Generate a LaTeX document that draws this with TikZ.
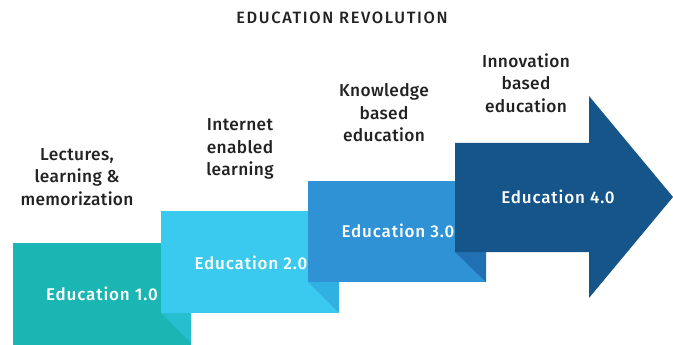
\documentclass[tikz,border=0pt]{standalone}
\usepackage{fontspec}
\setmainfont{Fira Sans}[BoldFont=* Medium]
\definecolor{cA}{HTML}{1AB6B4}
\definecolor{cAf}{HTML}{25BFCF}
\definecolor{cB}{HTML}{3AC9EF}
\definecolor{cBf}{HTML}{30B1E1}
\definecolor{cC}{HTML}{2E92D5}
\definecolor{cCf}{HTML}{2171B2}
\definecolor{cD}{HTML}{16558A}
\definecolor{txt}{HTML}{222222}
\tikzset{
  lbl/.style={align=center, text=txt, inner sep=0pt, font=\fontsize{17.3}{22.5}\selectfont\bfseries\addfontfeature{LetterSpace=2}},
  steptxt/.style={text=white, font=\fontsize{17}{20}\selectfont\bfseries\addfontfeature{LetterSpace=5}},
  ttl/.style={text=txt, font=\fontsize{16.4}{20}\selectfont\bfseries\addfontfeature{LetterSpace=10}},
}
\begin{document}
\begin{tikzpicture}[x=1pt,y=-1pt]
\useasboundingbox (0,0) rectangle (673,345);
% box 1
\fill[cA] (13,243) rectangle (191,345);
\fill[cAf] (161,313) -- (191,313) -- (191,343) -- cycle;
% box 2
\fill[cB] (161,211) rectangle (339,313);
\fill[cBf] (308,282) -- (339,282) -- (339,313) -- cycle;
% box 3
\fill[cC] (308,181) rectangle (486,282);
\fill[cCf] (455,252) -- (486,252) -- (486,282) -- cycle;
% arrow 4
\fill[cD] (455,143) -- (589,143) -- (589,96) -- (673,197) -- (589,298) -- (589,252) -- (455,252) -- cycle;
% texts
\node[steptxt] (e1) at (102,294) {Education 1.0};
\node[steptxt] (e2) at (251,263) {Education 2.0};
\node[steptxt] (e3) at (398,231) {Education 3.0};
\node[steptxt] (e4) at (558,197) {Education 4.0};
\node[lbl] (l1) at (77,177) {Lectures,\\learning \&\\memorization};
\node[lbl] (l2) at (240,149) {Internet\\enabled\\learning};
\node[lbl] (l3) at (384,113) {Knowledge\\based\\education};
\node[lbl] (l4) at (526,83) {Innovation\\based\\education};
\node[ttl] (title) at (342,18) {EDUCATION REVOLUTION};
\end{tikzpicture}
\end{document}
